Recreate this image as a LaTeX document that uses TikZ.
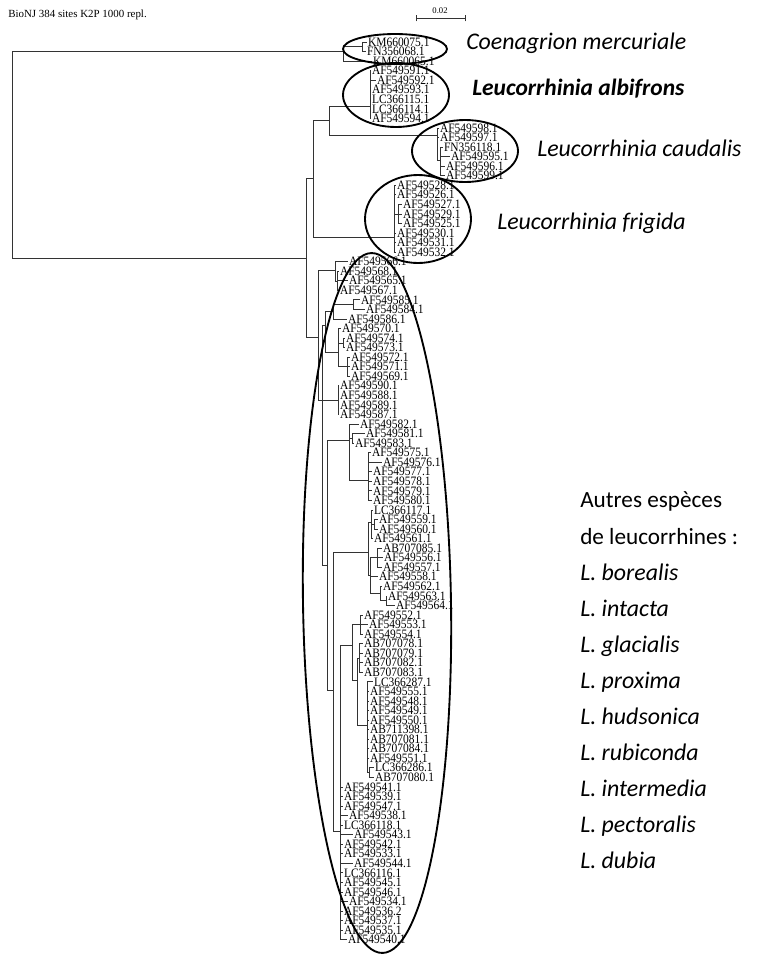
\documentclass[tikz,border=0pt]{standalone}
\usepackage{fontspec}
\setmainfont{Liberation Serif}
\newfontfamily\carl{Carlito}
\tikzset{
 branch/.style={draw=black!80, line width=0.6pt},
 leaf/.style={anchor=west, inner xsep=0.6pt, inner ysep=0pt, font=\fontsize{8.6}{8.6}\selectfont},
 ell/.style={draw=black, line width=1.4pt},
 sp/.style={font=\carl\fontsize{17.4}{20}\selectfont, anchor=base west, inner sep=0pt},
 spi/.style={font=\carl\itshape\fontsize{17.9}{20}\selectfont, anchor=base west, inner sep=0pt},
 spbi/.style={font=\carl\bfseries\itshape\fontsize{17.6}{20}\selectfont, anchor=base west, inner sep=0pt},
}
\newcommand\LeafAt[3]{\node[leaf] (l#1) at (#2,{42+(#1-1)*9.55}) {\scalebox{1}[1.12]{#3}};}
\newcommand\Kids[2]{\foreach \chld in {#2}{\draw[branch] (#1) |- (\chld);}}
\begin{document}
\begin{tikzpicture}[x=0.75pt,y=-0.75pt]
\useasboundingbox (0,0) rectangle (758,954);
\fill[white] (0,0) rectangle (758,954);
% leaves
\LeafAt{1}{367}{KM660075.1}
\LeafAt{2}{366}{FN356068.1}
\LeafAt{3}{372}{KM660065.1}
\LeafAt{4}{371}{AF549591.1}
\LeafAt{5}{376}{AF549592.1}
\LeafAt{6}{371}{AF549593.1}
\LeafAt{7}{371}{LC366115.1}
\LeafAt{8}{371}{LC366114.1}
\LeafAt{9}{371}{AF549594.1}
\LeafAt{10}{439}{AF549598.1}
\LeafAt{11}{439}{AF549597.1}
\LeafAt{12}{443}{FN356118.1}
\LeafAt{13}{450}{AF549595.1}
\LeafAt{14}{445}{AF549596.1}
\LeafAt{15}{445}{AF549599.1}
\LeafAt{16}{396}{AF549528.1}
\LeafAt{17}{396}{AF549526.1}
\LeafAt{18}{402}{AF549527.1}
\LeafAt{19}{402}{AF549529.1}
\LeafAt{20}{402}{AF549525.1}
\LeafAt{21}{396}{AF549530.1}
\LeafAt{22}{396}{AF549531.1}
\LeafAt{23}{396}{AF549532.1}
\LeafAt{24}{348}{AF549566.1}
\LeafAt{25}{339}{AF549568.1}
\LeafAt{26}{348}{AF549565.1}
\LeafAt{27}{339}{AF549567.1}
\LeafAt{28}{360}{AF549585.1}
\LeafAt{29}{365}{AF549584.1}
\LeafAt{30}{347}{AF549586.1}
\LeafAt{31}{341}{AF549570.1}
\LeafAt{32}{345}{AF549574.1}
\LeafAt{33}{345}{AF549573.1}
\LeafAt{34}{350}{AF549572.1}
\LeafAt{35}{350}{AF549571.1}
\LeafAt{36}{350}{AF549569.1}
\LeafAt{37}{339}{AF549590.1}
\LeafAt{38}{339}{AF549588.1}
\LeafAt{39}{339}{AF549589.1}
\LeafAt{40}{339}{AF549587.1}
\LeafAt{41}{359}{AF549582.1}
\LeafAt{42}{365}{AF549581.1}
\LeafAt{43}{354}{AF549583.1}
\LeafAt{44}{371}{AF549575.1}
\LeafAt{45}{382}{AF549576.1}
\LeafAt{46}{372}{AF549577.1}
\LeafAt{47}{372}{AF549578.1}
\LeafAt{48}{372}{AF549579.1}
\LeafAt{49}{372}{AF549580.1}
\LeafAt{50}{373}{LC366117.1}
\LeafAt{51}{378}{AF549559.1}
\LeafAt{52}{378}{AF549560.1}
\LeafAt{53}{373}{AF549561.1}
\LeafAt{54}{382}{AB707085.1}
\LeafAt{55}{383}{AF549556.1}
\LeafAt{56}{382}{AF549557.1}
\LeafAt{57}{378}{AF549558.1}
\LeafAt{58}{382}{AF549562.1}
\LeafAt{59}{387}{AF549563.1}
\LeafAt{60}{395}{AF549564.1}
\LeafAt{61}{363}{AF549552.1}
\LeafAt{62}{368}{AF549553.1}
\LeafAt{63}{363}{AF549554.1}
\LeafAt{64}{363}{AB707078.1}
\LeafAt{65}{363}{AB707079.1}
\LeafAt{66}{363}{AB707082.1}
\LeafAt{67}{363}{AB707083.1}
\LeafAt{68}{373}{LC366287.1}
\LeafAt{69}{369}{AF549555.1}
\LeafAt{70}{369}{AF549548.1}
\LeafAt{71}{369}{AF549549.1}
\LeafAt{72}{369}{AF549550.1}
\LeafAt{73}{369}{AB711398.1}
\LeafAt{74}{369}{AB707081.1}
\LeafAt{75}{369}{AB707084.1}
\LeafAt{76}{369}{AF549551.1}
\LeafAt{77}{374}{LC366286.1}
\LeafAt{78}{374}{AB707080.1}
\LeafAt{79}{343}{AF549541.1}
\LeafAt{80}{343}{AF549539.1}
\LeafAt{81}{343}{AF549547.1}
\LeafAt{82}{348}{AF549538.1}
\LeafAt{83}{343}{LC366118.1}
\LeafAt{84}{353}{AF549543.1}
\LeafAt{85}{343}{AF549542.1}
\LeafAt{86}{343}{AF549533.1}
\LeafAt{87}{353}{AF549544.1}
\LeafAt{88}{343}{LC366116.1}
\LeafAt{89}{343}{AF549545.1}
\LeafAt{90}{343}{AF549546.1}
\LeafAt{91}{348}{AF549534.1}
\LeafAt{92}{343}{AF549536.2}
\LeafAt{93}{343}{AF549537.1}
\LeafAt{94}{343}{AF549535.1}
\LeafAt{95}{347}{AF549540.1}
% internal nodes
\coordinate (root) at (12,154);
\coordinate (co) at (343,51);
\coordinate (co2) at (362,46.8);
\coordinate (c) at (306,258);
\coordinate (b) at (313,178);
\coordinate (a) at (329,120);
\coordinate (alb) at (370,106);
\coordinate (cau) at (437,135);
\coordinate (cau2) at (440,160);
\coordinate (fr) at (394,237);
\coordinate (fr2) at (398,214);
\coordinate (d) at (318,337);
\coordinate (e1) at (335,270);
\coordinate (e1b) at (337,281);
\coordinate (d2) at (322,400);
\coordinate (r) at (325,325);
\coordinate (q) at (333,311);
\coordinate (p) at (353,304);
\coordinate (s) at (338,352);
\coordinate (s2) at (343,343);
\coordinate (s3) at (347,366);
\coordinate (t) at (338,400);
\coordinate (f) at (327,565);
\coordinate (g) at (349,440);
\coordinate (g2) at (352,438);
\coordinate (u) at (368,480);
\coordinate (h) at (333,690);
\coordinate (i) at (368,552);
\coordinate (v1) at (371,522);
\coordinate (v1b) at (374,524);
\coordinate (v2) at (370,575);
\coordinate (v2a) at (377,557);
\coordinate (v2c) at (380,593);
\coordinate (v2d) at (386,600);
\coordinate (j) at (340,831);
\coordinate (k) at (352,645);
\coordinate (w1) at (360,624);
\coordinate (k2) at (357,680);
\coordinate (w2) at (359,658);
\coordinate (xx) at (367,725);
\coordinate (x2) at (369,772);
% branches
\Kids{root}{co,c}
\Kids{co}{co2,l3}
\Kids{co2}{l1,l2}
\Kids{c}{b,d}
\Kids{b}{a,fr}
\Kids{a}{alb,cau}
\Kids{alb}{l4,l5,l6,l7,l8,l9}
\Kids{cau}{l10,l11,cau2}
\Kids{cau2}{l12,l13,l14,l15}
\Kids{fr}{l16,l17,fr2,l21,l22,l23}
\Kids{fr2}{l18,l19,l20}
\Kids{d}{e1,d2}
\Kids{e1}{l24,e1b}
\Kids{e1b}{l25,l26,l27}
\Kids{d2}{r,t,f}
\Kids{r}{q,s}
\Kids{q}{p,l30}
\Kids{p}{l28,l29}
\Kids{s}{l31,s2,s3}
\Kids{s2}{l32,l33}
\Kids{s3}{l34,l35,l36}
\Kids{t}{l37,l38,l39,l40}
\Kids{f}{g,h}
\Kids{g}{l41,g2,u}
\Kids{g2}{l42,l43}
\Kids{u}{l44,l45,l46,l47,l48,l49}
\Kids{h}{i,j}
\Kids{i}{v1,v2}
\Kids{v1}{l50,v1b,l53}
\Kids{v1b}{l51,l52}
\Kids{v2}{v2a,l57,v2c}
\Kids{v2a}{l54,l55,l56}
\Kids{v2c}{l58,v2d}
\Kids{v2d}{l59,l60}
\Kids{j}{k,l79,l80,l81,l82,l83,l84,l85,l86,l87,l88,l89,l90,l91,l92,l93,l94,l95}
\Kids{k}{w1,k2}
\Kids{w1}{l61,l62,l63}
\Kids{k2}{w2,xx}
\Kids{w2}{l64,l65,l66,l67}
\Kids{xx}{l68,l69,l70,l71,l72,l73,l74,l75,l76,x2}
\Kids{x2}{l77,l78}
% title and scale
\node[anchor=base west, inner sep=0pt, font=\fontsize{8.2}{8.2}\selectfont] (title) at (8,17) {BioNJ 384 sites K2P 1000 repl.};
\coordinate (sb1) at (416,18);
\coordinate (sb2) at (465,18);
\draw[branch] (sb1) -- (sb2);
\draw[branch] ([yshift=-2.5pt]sb1) -- ([yshift=2.5pt]sb1);
\draw[branch] ([yshift=-2.5pt]sb2) -- ([yshift=2.5pt]sb2);
\node[anchor=base, inner sep=0pt, font=\fontsize{6.5}{6.5}\selectfont] (sbl) at (440,13) {0.02};
% species labels
\node[spi] (tco) at (466,49) {Coenagrion mercuriale};
\node[spbi] (talb) at (472,95) {Leucorrhinia albifrons};
\node[spi] (tcau) at (537,156) {Leucorrhinia caudalis};
\node[spi] (tfr) at (497,229) {Leucorrhinia frigida};
\node[sp] (t1) at (580,507) {Autres espèces};
\node[sp] (t2) at (580,544) {de leucorrhines :};
\node[spi] (n1) at (580,580) {L. borealis};
\node[spi] (n2) at (580,616) {L. intacta};
\node[spi] (n3) at (580,652) {L. glacialis};
\node[spi] (n4) at (580,688) {L. proxima};
\node[spi] (n5) at (580,724) {L. hudsonica};
\node[spi] (n6) at (580,760) {L. rubiconda};
\node[spi] (n7) at (580,796) {L. intermedia};
\node[spi] (n8) at (580,832) {L. pectoralis};
\node[spi] (n9) at (580,868) {L. dubia};
% ellipses
\draw[ell] (395,49) ellipse [x radius=52, y radius=15];
\draw[ell] (396,95) ellipse [x radius=53, y radius=32];
\draw[ell] (465,151) ellipse [x radius=53, y radius=31];
\draw[ell] (418,219) ellipse [x radius=53, y radius=44];
\draw[ell, rotate around={0.9:(377,603)}] (377,603) ellipse [x radius=74, y radius=350];
\end{tikzpicture}
\end{document}
